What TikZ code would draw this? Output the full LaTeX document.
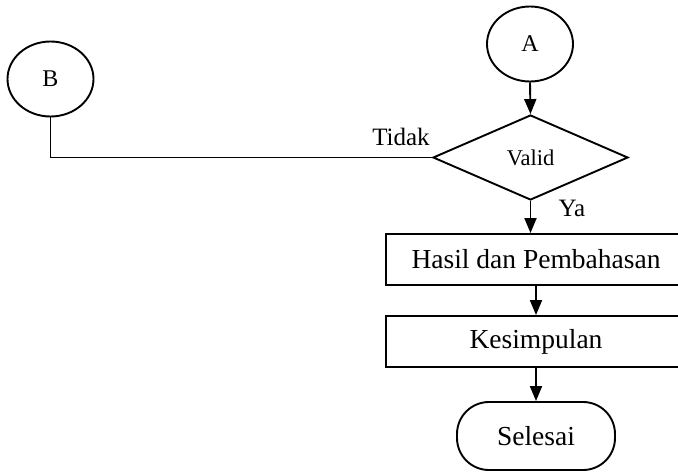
\documentclass[tikz,border=0pt]{standalone}
\usepackage{fontspec}
\setmainfont{Liberation Serif}
\usetikzlibrary{shapes.geometric,arrows.meta}
\tikzset{
  base/.style={draw=black, line width=1.9pt, inner sep=0pt},
  conn/.style={base, ellipse, minimum width=86pt, minimum height=75pt, font=\fontsize{24}{28}\selectfont},
  decis/.style={base, diamond, minimum width=195pt, minimum height=85pt, font=\fontsize{22.5}{26}\selectfont},
  procbox/.style={base, rectangle, minimum width=300pt, minimum height=51pt, font=\fontsize{27.5}{32}\selectfont},
  term/.style={base, rectangle, rounded corners=32pt, minimum width=158pt, minimum height=68pt, font=\fontsize{27.5}{32}\selectfont},
  lbl/.style={font=\fontsize{25}{29}\selectfont, inner sep=0pt},
  line/.style={line width=1.9pt},
  arr/.style={line, -{Triangle[length=15pt,width=12pt]}}
}
\begin{document}
\begin{tikzpicture}[x=1pt,y=-1pt]
\useasboundingbox (0,0) rectangle (678,472);
\clip (0,0) rectangle (678,472);
\node[conn] (A) at (530,44) {A};
\node[conn] (B) at (50.5,79) {B};
\node[decis] (V) at (530.5,157.5) {Valid};
\node[procbox] (H) at (536,259.5) {Hasil dan Pembahasan};
\node[procbox] (K) at (536,341.5) {Kesimpulan};
\node[term] (S) at (536,436) {Selesai};
\node[lbl] (tidak) at (401,137) {Tidak};
\node[lbl] (ya) at (572,208) {Ya};
\draw[arr] (A.south) -- (V.north);
\draw[arr] (V.south) -- (V.south |- H.north);
\draw[arr] (H.south) -- (K.north);
\draw[arr] (K.south -| S.north) -- (S.north);
\draw[line] (B.south) |- (V.west);
\end{tikzpicture}
\end{document}
